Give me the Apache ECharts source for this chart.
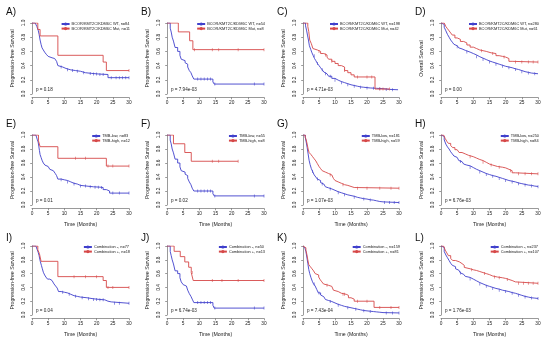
<!DOCTYPE html>
<html><head><meta charset="utf-8">
<script src="https://cdn.jsdelivr.net/npm/echarts@6/dist/echarts.min.js"></script>
<style>html,body{margin:0;padding:0;background:#fff}#c{width:550px;height:345px}</style>
</head><body><div id="c"></div>
<script>
// ---------------- DATA ----------------
const panelLetters = ["A)","B)","C)","D)","E)","F)","G)","H)","I)","J)","K)","L)"];
const pValues = ["p = 0.18","p = 7.94e-03","p = 4.71e-03","p = 0.00","p = 0.01","p = 0.02","p = 1.07e-03","p = 6.76e-03","p = 0.04","p = 6.74e-03","p = 7.43e-04","p = 1.76e-03"];
const yNames = ["Progression-free Survival","Progression-free Survival","Progression-free Survival","Overall Survival",
  "Progression-free Survival","Progression-free Survival","Progression-free Survival","Progression-free Survival",
  "Progression-free Survival","Progression-free Survival","Progression-free Survival","Progression-free Survival"];
const xName = "Time (Months)";
const xTicks = [0,5,10,15,20,25,30];
const yTicks = [0,0.2,0.4,0.6,0.8,1.0];
const legendNames = [
  ["BCOR/KMT2C/KDM6C WT, n=84","BCOR/KMT2C/KDM6C Mut, n=11"],
  ["BCOR/KMT2C/KDM6C WT, n=54","BCOR/KMT2C/KDM6C Mut, n=8"],
  ["BCOR/KMT2C/KDM6C WT, n=198","BCOR/KMT2C/KDM6C Mut, n=42"],
  ["BCOR/KMT2C/KDM6C WT, n=280","BCOR/KMT2C/KDM6C Mut, n=61"],
  ["TMB-low, n=83","TMB-high, n=12"],
  ["TMB-low, n=55","TMB-high, n=8"],
  ["TMB-low, n=181","TMB-high, n=59"],
  ["TMB-low, n=250","TMB-high, n=84"],
  ["Combination -, n=77","Combination +, n=18"],
  ["Combination -, n=50","Combination +, n=13"],
  ["Combination -, n=159","Combination +, n=81"],
  ["Combination -, n=237","Combination +, n=107"]
];

const A_blue=[[0,1],[1.0,0.976],[1.5,0.95],[1.9,0.9],[2.2,0.84],[2.5,0.76],[2.8,0.7],[3.1,0.65],[3.5,0.62],[3.9,0.59],[4.4,0.56],[5,0.53],[5.6,0.51],[6.2,0.5],[7,0.48],[7.6,0.46],[8,0.4],[8.5,0.38],[9.5,0.36],[10.5,0.34],[12,0.33],[13.5,0.32],[15,0.3],[16.5,0.29],[18.5,0.28],[21,0.275],[23.5,0.23],[30,0.23]];
const A_red=[[0,1],[1.8,0.909],[2.5,0.818],[8,0.545],[22,0.45],[23,0.33],[30,0.33]];
const A_blueC=[9,11,12.5,14,16,18,19,20,21,22,24.5,26,27,28,29,30];
const A_redC=[30];

const B_blue=[[0,1],[1,0.927],[1.3,0.873],[1.6,0.8],[2,0.745],[2.5,0.655],[3.3,0.6],[4,0.545],[4.4,0.49],[5,0.47],[5.6,0.44],[6,0.42],[6.4,0.38],[6.9,0.33],[7.4,0.3],[7.8,0.255],[8.3,0.21],[14.2,0.17],[14.6,0.14],[30,0.14]];
const B_red=[[0,1],[3.5,0.875],[7,0.75],[8,0.625],[30,0.625]];
const B_blueC=[9.5,10.5,11.5,12.5,13.5,14.8,27,30];
const B_redC=[8.5,14,16,22,30];

const C_blue=[[0,1],[0.8,0.96],[1.1,0.9],[1.4,0.83],[1.7,0.76],[2,0.68],[2.4,0.63],[2.8,0.58],[3.2,0.54],[3.6,0.5],[4,0.47],[4.5,0.43],[5,0.4],[5.5,0.37],[6,0.34],[6.5,0.31],[7,0.285],[7.5,0.265],[8,0.25],[9,0.22],[10,0.195],[11,0.175],[12,0.16],[13,0.145],[14,0.13],[15,0.12],[16,0.11],[17,0.1],[18,0.095],[19,0.09],[20,0.085],[21,0.08],[23,0.075],[25,0.065],[27,0.06],[29.7,0.06]];
const C_red=[[0,1],[1.5,0.95],[1.8,0.88],[2.1,0.76],[2.6,0.71],[3.1,0.64],[3.6,0.62],[4.5,0.6],[5.5,0.57],[6.5,0.55],[7.5,0.52],[8,0.49],[9,0.46],[10,0.43],[11,0.4],[12,0.38],[13,0.33],[14,0.3],[15,0.27],[16,0.24],[22.5,0.07],[27,0.07]];
const C_blueC=[3.5,4.5,6,7,8.5,10,12,14,16,18,20,22,24,26,28];
const C_redC=[5,7,9,13,17,20,21.5,24,25,27];

const D_blue=[[0,1],[0.6,0.98],[1,0.94],[1.5,0.89],[2,0.84],[2.5,0.8],[3,0.76],[3.5,0.73],[4,0.7],[4.5,0.68],[5,0.665],[5.5,0.65],[6,0.635],[6.5,0.625],[7,0.615],[7.5,0.6],[8,0.59],[9,0.57],[10,0.55],[11,0.525],[12,0.505],[13,0.485],[14,0.465],[15,0.45],[16,0.435],[17,0.42],[18,0.405],[19,0.39],[20,0.38],[21,0.37],[22,0.355],[23,0.345],[24,0.33],[25,0.315],[26,0.305],[27,0.295],[28,0.29],[29,0.285],[30,0.285]];
const D_red=[[0,1],[1,0.98],[1.5,0.95],[2,0.92],[2.5,0.89],[3,0.86],[3.5,0.83],[4.3,0.79],[5,0.77],[6,0.74],[7,0.72],[8,0.69],[9,0.66],[10,0.64],[11,0.62],[12,0.61],[13,0.6],[14,0.58],[15.5,0.57],[17,0.54],[18,0.53],[19,0.52],[20,0.5],[21,0.46],[22,0.45],[30,0.45]];
const D_blueC=[5,8,11,13,15,17,19,21,23,25,27,29];
const D_redC=[12.5,16,19.5,23,25,27,28.5,30];

const E_blue=[[0,1],[1.2,0.976],[1.6,0.94],[1.9,0.9],[2.1,0.84],[2.3,0.78],[2.5,0.72],[2.8,0.68],[3.1,0.64],[3.5,0.6],[4,0.57],[4.5,0.55],[5,0.53],[5.5,0.51],[6,0.49],[6.6,0.47],[7.2,0.45],[7.6,0.42],[8,0.37],[9,0.36],[10,0.35],[11,0.33],[12,0.31],[13,0.3],[14,0.28],[15,0.27],[17,0.26],[19,0.255],[21,0.25],[22,0.22],[23,0.2],[24,0.17],[30,0.17]];
const E_red=[[0,1],[2,0.917],[2.5,0.833],[8,0.667],[23,0.556],[30,0.556]];
const E_blueC=[9,11,13,15,16.5,18,19.5,20.5,21.5,25,27,30];
const E_redC=[13.5,16.5,23.5,25,30];

const F_blue=[[0,1],[1,0.927],[1.3,0.873],[1.6,0.8],[2,0.745],[2.5,0.655],[3.3,0.6],[4,0.545],[4.4,0.49],[5,0.47],[5.6,0.44],[6,0.42],[6.4,0.38],[6.9,0.33],[7.4,0.29],[7.8,0.24],[8.3,0.2],[14.2,0.16],[14.6,0.13],[30,0.13]];
const F_red=[[0,1],[2,0.875],[5.5,0.75],[7.5,0.625],[22,0.625]];
const F_blueC=[9.5,10.5,11.5,12.5,13.5,14.8,27,30];
const F_redC=[14,16,22];

const G_blue=[[0,1],[0.7,0.97],[1,0.9],[1.3,0.82],[1.6,0.73],[1.9,0.64],[2.2,0.58],[2.6,0.52],[3,0.48],[3.5,0.43],[4,0.4],[4.5,0.37],[5,0.35],[5.5,0.32],[6,0.3],[6.5,0.28],[7,0.26],[7.5,0.245],[8,0.23],[9,0.21],[10,0.19],[11,0.175],[12,0.16],[13,0.145],[14,0.135],[15,0.125],[16,0.11],[17,0.1],[18,0.09],[19,0.085],[20,0.075],[21,0.07],[22,0.06],[23,0.05],[24,0.045],[25,0.035],[30,0.035]];
const G_red=[[0,1],[0.7,0.97],[1,0.93],[1.3,0.87],[1.6,0.8],[1.9,0.75],[2.5,0.72],[3,0.69],[3.5,0.66],[4,0.63],[4.5,0.59],[5,0.55],[5.5,0.52],[6,0.49],[6.5,0.47],[7,0.45],[8,0.43],[9,0.41],[9.5,0.38],[10,0.35],[10.5,0.33],[11,0.31],[12,0.29],[13,0.28],[14,0.265],[15,0.25],[16,0.24],[30,0.24]];
const G_blueC=[3,4.5,6,8.5,11,13,16,19,21,25.5,27,28.5,30];
const G_redC=[8.5,12.5,17,20,24,27.5,30];

const H_blue=[[0,1],[0.5,0.98],[1,0.93],[1.5,0.87],[2,0.83],[2.5,0.8],[3,0.76],[3.5,0.73],[4,0.7],[4.5,0.68],[5,0.66],[5.5,0.635],[6,0.62],[6.5,0.6],[7,0.585],[7.5,0.57],[8,0.56],[9,0.535],[10,0.51],[11,0.49],[12,0.47],[13,0.45],[14,0.435],[15,0.42],[16,0.41],[17,0.395],[18,0.38],[19,0.365],[20,0.35],[21,0.34],[22,0.33],[23,0.315],[24,0.305],[25,0.295],[26,0.285],[27,0.28],[28,0.27],[29,0.265],[30,0.26]];
const H_red=[[0,1],[0.8,0.98],[1.3,0.95],[1.8,0.91],[2.3,0.88],[3,0.85],[3.6,0.82],[4.3,0.79],[5,0.77],[5.6,0.75],[6.5,0.73],[7.5,0.71],[8.5,0.69],[10,0.67],[11,0.65],[12,0.635],[13,0.61],[14,0.585],[15,0.57],[16,0.55],[17.5,0.54],[19,0.53],[20,0.51],[21,0.49],[22,0.46],[23,0.445],[30,0.445]];
const H_blueC=[6,9,12,14,16,18,20,22,24,26,28,30];
const H_redC=[9,13,15.5,18,21.5,24,26,28,30];

const I_blue=[[0,1],[1.2,0.974],[1.6,0.948],[1.9,0.91],[2.2,0.86],[2.4,0.81],[2.6,0.77],[2.9,0.72],[3.2,0.67],[3.5,0.62],[3.9,0.58],[4.3,0.55],[4.8,0.52],[5.5,0.5],[6.2,0.48],[6.8,0.45],[7.3,0.42],[7.8,0.39],[8.2,0.34],[9,0.33],[10,0.32],[11,0.3],[12,0.28],[13,0.27],[14,0.26],[15,0.25],[17,0.235],[19,0.225],[21,0.22],[22.5,0.2],[23.5,0.19],[24.5,0.17],[30,0.17]];
const I_red=[[0,1],[1.8,0.944],[2.3,0.889],[2.8,0.778],[8,0.556],[22,0.5],[23,0.4],[30,0.4]];
const I_blueC=[9.5,11.5,13.5,15.5,17.5,19,20,21,22,25.5,27,30];
const I_redC=[13,16.5,20,23.5,25,30];

const J_blue=[[0,1],[1,0.92],[1.3,0.86],[1.6,0.8],[2,0.74],[2.5,0.64],[3.3,0.6],[4,0.54],[4.4,0.48],[5,0.44],[5.6,0.42],[6,0.4],[6.4,0.36],[6.9,0.31],[7.4,0.27],[7.8,0.23],[8.3,0.18],[14.2,0.14],[14.6,0.1],[30,0.1]];
const J_red=[[0,1],[2.2,0.923],[4.1,0.846],[5.5,0.769],[6.7,0.692],[7.5,0.615],[8.1,0.5],[30,0.5]];
const J_blueC=[9.5,10.5,11.5,12.5,13.5,14.8,27,30];
const J_redC=[7.8,14,17,22,30];

const K_blue=[[0,1],[0.6,0.97],[0.9,0.92],[1.2,0.84],[1.5,0.75],[1.8,0.66],[2.1,0.6],[2.5,0.54],[2.9,0.49],[3.3,0.45],[3.8,0.42],[4.3,0.37],[4.8,0.32],[5.5,0.29],[6,0.265],[6.5,0.24],[7,0.225],[7.5,0.21],[8,0.195],[9,0.175],[10,0.155],[11,0.14],[12,0.125],[13,0.115],[14,0.105],[15,0.095],[16,0.085],[17,0.075],[18,0.065],[19,0.06],[20,0.055],[21,0.05],[22,0.045],[23,0.04],[24,0.035],[25,0.03],[30,0.03]];
const K_red=[[0,1],[0.6,0.975],[0.9,0.94],[1.2,0.88],[1.5,0.8],[1.8,0.73],[2.3,0.7],[2.8,0.67],[3.3,0.64],[3.8,0.6],[4.3,0.58],[4.9,0.55],[5.4,0.51],[5.9,0.48],[6.4,0.45],[6.9,0.43],[8,0.415],[9,0.39],[9.5,0.36],[10,0.34],[11,0.315],[12,0.3],[13.5,0.285],[14.2,0.25],[15,0.23],[16,0.2],[22.2,0.11],[30,0.11]];
const K_blueC=[3.5,5,8.5,11,14,16.5,19,21,26,28,30];
const K_redC=[7.5,12.5,13,17,20,24,27.5,30];

const L_blue=[[0,1],[0.5,0.98],[1,0.92],[1.5,0.87],[2,0.83],[2.5,0.79],[3,0.75],[3.5,0.72],[4,0.7],[4.5,0.67],[5,0.65],[5.5,0.63],[6,0.61],[6.5,0.59],[7,0.575],[7.5,0.56],[8,0.545],[9,0.52],[10,0.495],[11,0.47],[12,0.45],[13,0.43],[14,0.415],[15,0.4],[16,0.385],[17,0.375],[18,0.36],[19,0.35],[20,0.34],[21,0.325],[22,0.315],[23,0.3],[24,0.285],[25,0.27],[26,0.26],[27,0.25],[28,0.245],[29,0.24],[30,0.24]];
const L_red=[[0,1],[0.8,0.98],[1.3,0.94],[1.8,0.9],[2.3,0.86],[3,0.82],[3.6,0.79],[4.5,0.77],[5.7,0.745],[6.5,0.72],[7.2,0.69],[7.7,0.67],[9,0.655],[10,0.645],[11,0.63],[12,0.615],[13,0.6],[14,0.585],[15,0.565],[16,0.55],[17.5,0.54],[19,0.53],[20,0.515],[21,0.5],[22,0.48],[23,0.46],[30,0.46]];
const L_blueC=[6,9,12,14,16,18,20,22,24,26,28,30];
const L_redC=[9.5,13.5,16.5,18,20.5,24,25.5,27,28.5,30];

const blueCurves=[A_blue,B_blue,C_blue,D_blue,E_blue,F_blue,G_blue,H_blue,I_blue,J_blue,K_blue,L_blue];
const redCurves=[A_red,B_red,C_red,D_red,E_red,F_red,G_red,H_red,I_red,J_red,K_red,L_red];
const blueCens=[A_blueC,B_blueC,C_blueC,D_blueC,E_blueC,F_blueC,G_blueC,H_blueC,I_blueC,J_blueC,K_blueC,L_blueC];
const redCens=[A_redC,B_redC,C_redC,D_redC,E_redC,F_redC,G_redC,H_redC,I_redC,J_redC,K_redC,L_redC];

// ---------------- LAYOUT ----------------
const W=550;
const colL=[32,167,303,441], colR=[129,264,399,538];
const rowT=[23,135,246], rowB=[94,205,315];
const letterY=[13,125,239];
const BLUE='#4040cc', RED='#d64848';
const FONT='Liberation Sans, Arial, sans-serif';

function stepAt(curve,t){let v=curve[0][1];for(const p of curve){if(p[0]<=t+1e-9)v=p[1];else break;}return v;}

const grid=[],xAxis=[],yAxis=[],series=[],legend=[],title=[];
for(let i=0;i<12;i++){
  const c=i%4,r=Math.floor(i/4);
  const L=colL[c],R=colR[c],T=rowT[r],B=rowB[r];
  grid.push({left:L,top:T,width:R-L,height:B-T,containLabel:false});
  xAxis.push({type:'value',gridIndex:i,min:0,max:30,interval:5,offset:3.5,
    name:r>0?xName:'',nameLocation:'middle',nameGap:13.5,
    nameTextStyle:{fontSize:5.2,color:'#222',fontFamily:FONT},
    axisLine:{show:true,onZero:false,lineStyle:{color:'#555',width:0.6}},
    axisTick:{show:true,length:1.8,lineStyle:{color:'#555',width:0.6}},
    axisLabel:{fontSize:4.8,color:'#222',margin:2.5,fontFamily:FONT,customValues:xTicks},
    splitLine:{show:false}});
  yAxis.push({type:'value',gridIndex:i,min:0,max:1,interval:0.2,offset:3,
    name:yNames[i],nameLocation:'middle',nameGap:13.5,
    nameTextStyle:{fontSize:5.2,color:'#222',fontFamily:FONT},
    axisLine:{show:true,lineStyle:{color:'#555',width:0.6}},
    axisTick:{show:true,length:1.8,lineStyle:{color:'#555',width:0.6}},
    axisLabel:{fontSize:4.8,color:'#222',margin:2.5,rotate:90,fontFamily:FONT,
      formatter:v=>v.toFixed(1),customValues:yTicks},
    splitLine:{show:false}});
  const names=legendNames[i];
  series.push({type:'line',name:names[0],xAxisIndex:i,yAxisIndex:i,step:'end',symbol:'none',
    data:blueCurves[i],lineStyle:{color:BLUE,width:0.9},itemStyle:{color:BLUE},z:3,silent:true});
  series.push({type:'line',name:names[1],xAxisIndex:i,yAxisIndex:i,step:'end',symbol:'none',
    data:redCurves[i],lineStyle:{color:RED,width:0.9},itemStyle:{color:RED},z:4,silent:true});
  series.push({type:'scatter',xAxisIndex:i,yAxisIndex:i,symbol:'rect',symbolSize:[0.7,3],
    data:blueCens[i].map(t=>[t,stepAt(blueCurves[i],t)]),itemStyle:{color:BLUE},z:3,silent:true});
  series.push({type:'scatter',xAxisIndex:i,yAxisIndex:i,symbol:'rect',symbolSize:[0.7,3],
    data:redCens[i].map(t=>[t,stepAt(redCurves[i],t)]),itemStyle:{color:RED},z:4,silent:true});
  legend.push({data:names,orient:'vertical',right:W-R-3,top:T-1,itemWidth:8,itemHeight:4,itemGap:0.6,
    padding:[0,2,0,0],selectedMode:false,
    textStyle:{fontSize:3.9,color:'#222',fontFamily:FONT,padding:[0,0,0,-3]}});
  title.push({text:panelLetters[i],left:L-26,top:letterY[r]-6,padding:0,
    textStyle:{fontSize:10,fontWeight:'normal',color:'#111',fontFamily:FONT}});
  title.push({text:pValues[i],left:L+4,top:B-7,padding:0,
    textStyle:{fontSize:4.6,fontWeight:'normal',color:'#222',fontFamily:FONT}});
}

const chart=echarts.init(document.getElementById('c'),null,{renderer:'canvas'});
chart.setOption({backgroundColor:'#fff',animation:false,title,legend,grid,xAxis,yAxis,series});
</script></body></html>
